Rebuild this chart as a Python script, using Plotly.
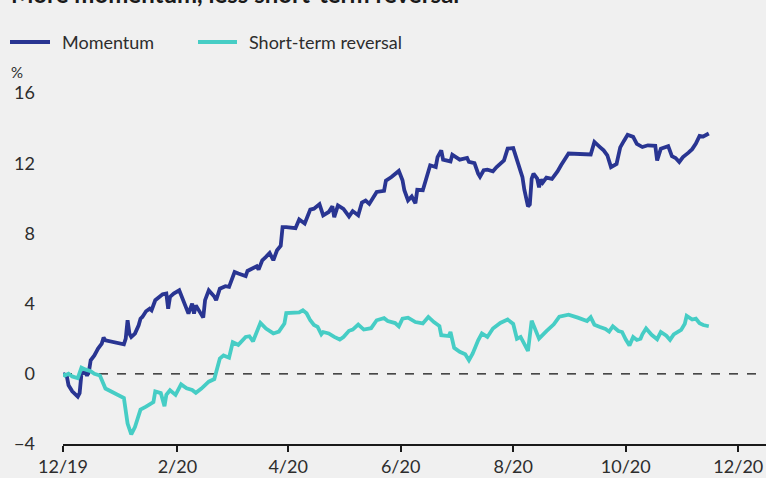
import pandas as pd
import plotly.graph_objects as go

# days since 2019-12-01 and cumulative return (%)
mom_days = [0, 2, 3, 5, 8, 9, 10, 12, 13, 14, 15, 17, 19, 21, 22, 23, 33, 34, 35, 36, 37, 39, 41, 42, 43,
            45, 47, 48, 50, 52, 54, 56, 57, 58, 60, 63, 65, 67, 68, 70, 71, 72, 74, 76, 77, 79, 82, 83, 85,
            88, 90, 91, 93, 95, 99, 100, 103, 105, 106, 108, 110, 112, 114, 116, 118, 119, 121, 126, 128,
            130, 131, 134, 136, 139, 141, 144, 146, 147, 149, 152, 155, 157, 160, 162, 164, 166, 170, 174,
            175, 178, 182, 184, 185, 187, 189, 191, 192, 195, 197, 199, 202, 203, 205, 206, 210, 211, 215,
            219, 220, 223, 225, 226, 228, 230, 233, 235, 239, 241, 244, 246, 247, 249, 250, 251, 252, 253,
            254, 255, 257, 258, 259, 260, 262, 265, 268, 270, 274, 286, 288, 291, 293, 295, 297, 300, 302,
            304, 306, 309, 311, 314, 317, 321, 322, 324, 328, 330, 332, 334, 336, 339, 341, 343, 345, 347,
            350]
mom_vals = [0, -0.1, -0.65, -1.0, -1.3, -1.1, 0.0, 0.1, -0.1, 0.1, 0.77, 1.05, 1.44, 1.72, 2.06, 1.91,
            1.68, 2.0, 3.05, 2.29, 2.1, 2.29, 2.76, 3.14, 3.24, 3.56, 3.71, 3.62, 4.19, 4.38, 4.53, 4.57,
            3.71, 4.38, 4.57, 4.76, 4.28, 3.71, 3.43, 4.0, 3.43, 3.9, 3.5, 3.2, 4.2, 4.75, 4.4, 4.19, 4.85,
            4.99, 4.95, 5.27, 5.8, 5.71, 5.57, 5.86, 6.0, 6.13, 5.94, 6.47, 6.66, 6.88, 6.47, 7.04, 7.3,
            8.36, 8.36, 8.3, 8.79, 8.65, 8.56, 9.36, 9.41, 9.66, 9.03, 9.22, 9.54, 8.93, 9.6, 9.4, 8.97,
            9.27, 9.03, 9.76, 9.87, 9.68, 10.36, 10.43, 11.0, 11.21, 11.56, 11.03, 10.46, 9.88, 10.1,
            9.72, 10.48, 10.46, 11.21, 11.88, 11.78, 12.35, 12.73, 12.2, 12.1, 12.48, 12.2, 12.3, 12.07,
            12.0, 11.4, 11.23, 11.6, 11.63, 11.54, 11.78, 12.16, 12.83, 12.86, 12.2, 11.9, 11.21, 10.5,
            10.07, 9.54, 9.65, 11.12, 11.4, 11.12, 10.62, 11.08, 10.9, 11.18, 11.11, 11.53, 11.9, 12.55,
            12.5, 13.21, 12.92, 12.73, 12.45, 11.78, 11.96, 12.9, 13.27, 13.62, 13.5, 13.1, 12.92, 13.02,
            12.99, 12.16, 12.83, 12.97, 12.4, 12.3, 12.07, 12.35, 12.6, 12.8, 13.12, 13.56, 13.52, 13.69]

rev_days = [0, 1, 3, 5, 8, 10, 12, 15, 17, 20, 23, 27, 33, 35, 37, 39, 41, 42, 45, 47, 49, 50, 53, 55,
            56, 58, 61, 64, 67, 70, 72, 75, 77, 79, 82, 84, 85, 87, 90, 92, 95, 99, 101, 103, 107, 110,
            112, 114, 117, 120, 121, 126, 128, 130, 132, 134, 136, 138, 140, 141, 144, 147, 150, 152, 155,
            157, 160, 163, 167, 170, 174, 176, 180, 182, 184, 187, 191, 195, 198, 201, 204, 205, 209, 210,
            212, 215, 218, 220, 222, 225, 227, 230, 233, 237, 241, 244, 246, 248, 250, 252, 254, 256, 258,
            262, 264, 266, 269, 274, 279, 284, 286, 288, 291, 294, 296, 298, 301, 303, 305, 307, 309, 311,
            313, 314, 316, 319, 322, 324, 327, 329, 331, 335, 337, 338, 341, 343, 345, 347, 350]
rev_vals = [0, -0.1, 0.0, -0.15, -0.25, 0.35, 0.25, 0.15, 0.0, -0.1, -0.84, -1.04, -1.38, -2.84, -3.45,
            -3.03, -2.3, -2.04, -1.87, -1.74, -1.61, -1.0, -1.1, -1.85, -1.2, -0.94, -1.2, -0.6, -0.82,
            -0.92, -1.08, -0.84, -0.65, -0.45, -0.3, 0.6, 0.87, 1.05, 0.92, 1.8, 1.65, 2.1, 2.14, 1.85,
            2.9, 2.58, 2.45, 2.3, 2.4, 2.86, 3.46, 3.48, 3.5, 3.62, 3.45, 3.05, 2.78, 2.67, 2.25, 2.38,
            2.3, 2.1, 1.95, 2.1, 2.45, 2.52, 2.8, 2.52, 2.6, 3.05, 3.17, 3.01, 2.89, 2.7, 3.14, 3.2, 2.95,
            2.87, 3.24, 2.95, 2.72, 2.2, 2.15, 2.38, 1.48, 1.25, 1.11, 0.77, 1.15, 1.91, 2.3, 2.1, 2.58,
            2.9, 3.09, 2.84, 2.0, 2.1, 1.72, 1.3, 3.03, 2.45, 2.0, 2.43, 2.63, 2.82, 3.26, 3.37, 3.2, 3.01,
            3.22, 2.8, 2.67, 2.55, 2.4, 2.71, 2.44, 2.38, 1.95, 1.62, 2.1, 1.93, 2.0, 2.25, 2.58, 2.22,
            1.97, 2.38, 2.17, 1.93, 2.24, 2.5, 2.85, 3.3, 3.09, 3.14, 2.88, 2.78, 2.71]

tick_dates = ["2019-12-01", "2020-02-01", "2020-04-01", "2020-06-01", "2020-08-01", "2020-10-01", "2020-12-01"]
tick_text = ["12/19", "2/20", "4/20", "6/20", "8/20", "10/20", "12/20"]
y_ticks = [-4, 0, 4, 8, 12, 16]
grid_ticks = [4, 8, 12, 16]

NAVY = "#293592"
TEAL = "#46cdc5"
BG = "#f0f0f0"
TXT = "#2d2d2d"
FONT = "Lato"

W, H = 766, 478
L, R, T, B = 63, 0, 93, 34


def to_dates(days):
    return pd.Timestamp("2019-12-01") + pd.to_timedelta(days, unit="D")


def px_x(p):
    return (p - L) / (W - L - R)


def px_y(p):
    return (H - B - p) / (H - T - B)


fig = go.Figure()
fig.add_trace(go.Scatter(x=to_dates(mom_days), y=mom_vals, mode="lines", name="Momentum",
                         line=dict(color=NAVY, width=3.8)))
fig.add_trace(go.Scatter(x=to_dates(rev_days), y=rev_vals, mode="lines", name="Short-term reversal",
                         line=dict(color=TEAL, width=3.8)))

fig.add_shape(type="line", xref="paper", yref="y", x0=0, x1=px_x(759), y0=0, y1=0,
              line=dict(color="#111111", width=1.2, dash="dash"), layer="below")

# legend drawn by hand to match spacing
legend = [("Momentum", NAVY, 10, 50, 60), ("Short-term reversal", TEAL, 198, 237, 247)]
for label, col, a, b, t in legend:
    fig.add_shape(type="line", xref="paper", yref="paper", x0=px_x(a), x1=px_x(b),
                  y0=px_y(42), y1=px_y(42), line=dict(color=col, width=4))
    fig.add_annotation(text=label, xref="paper", yref="paper", x=px_x(t), y=px_y(42),
                       xanchor="left", yanchor="middle", showarrow=False,
                       font=dict(family=FONT, size=18, color=TXT))

fig.add_annotation(text="%", xref="paper", yref="paper", x=px_x(9), y=px_y(72),
                   xanchor="left", yanchor="middle", showarrow=False,
                   font=dict(family=FONT, size=15, color=TXT))
fig.add_annotation(text="<b>More momentum, less short-term reversal</b>", xref="paper", yref="paper",
                   x=px_x(9), y=px_y(10), xanchor="left", yanchor="bottom", showarrow=False,
                   font=dict(family=FONT, size=24, color="#1a1a1a"))

fig.update_layout(
    width=W, height=H,
    margin=dict(l=L, r=R, t=T, b=B),
    paper_bgcolor=BG, plot_bgcolor=BG,
    showlegend=False,
    font=dict(family=FONT, size=18, color=TXT),
    xaxis=dict(type="date", range=["2019-12-01", "2020-12-16"], tickvals=tick_dates, ticktext=tick_text,
               showgrid=False, zeroline=False, showline=True, linecolor="#1a1a1a", linewidth=1.5,
               ticks="outside", ticklen=6, tickwidth=1.5, tickcolor="#1a1a1a",
               tickfont=dict(size=18, color=TXT)),
    yaxis=dict(range=[-4, 16], tickvals=y_ticks, showgrid=False, zeroline=False, ticks="",
               ticklabelstandoff=27, tickfont=dict(size=18, color=TXT)),
    yaxis2=dict(range=[-4, 16], tickvals=grid_ticks, overlaying="y", anchor="x", showgrid=True,
                gridcolor="white", gridwidth=2, showticklabels=False, zeroline=False, ticks=""),
)

# page body margin would push the chart 8px off; drop it
fig.write_html("out.html", config={"displayModeBar": False},
               post_script="document.body.style.margin='0px';document.body.style.background='#f0f0f0';")
